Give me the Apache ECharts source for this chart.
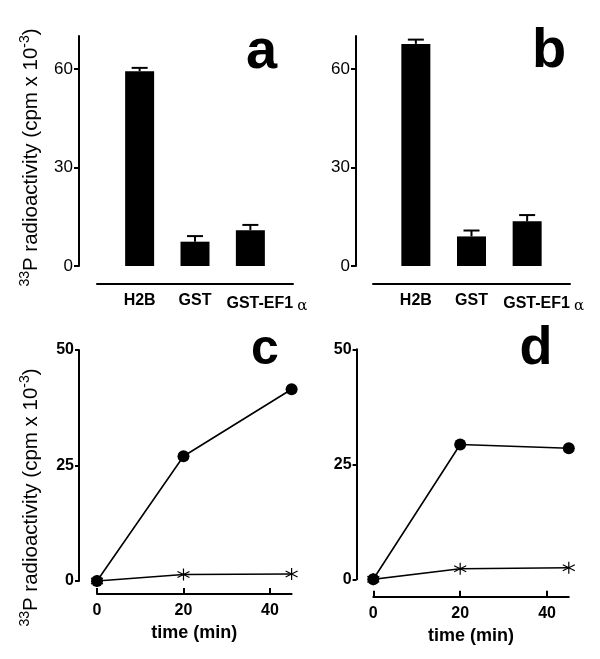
<!DOCTYPE html>
<html>
<head>
<meta charset="utf-8">
<script src="https://cdn.jsdelivr.net/npm/echarts@6/dist/echarts.min.js"></script>
<style>html,body{margin:0;padding:0;background:#fff}#c{width:600px;height:659px}</style>
</head>
<body>
<div id="c"></div>
<script>
// ---- data ----
const categories = ['H2B', 'GST', 'GST-EF1α'];
const barA = [59.3, 7.4, 10.9];
const errA = [1.0, 1.7, 1.6];
const barB = [67.6, 9.0, 13.6];
const errB = [1.3, 1.8, 1.9];
const barTicks = [0, 30, 60];
const timePoints = [0, 20, 45];
const circleC = [0, 27.0, 41.5];
const starC = [0, 1.4, 1.5];
const circleD = [0, 29.3, 28.5];
const starD = [0, 2.3, 2.5];
const lineTicks = [0, 25, 50];
const timeTicks = [0, 20, 40];
const panelLetters = ['a', 'b', 'c', 'd'];
const yTitle = '{sup|33}{n|P radioactivity (cpm x 10}{sup|-3}{n|)}';
const xTitle = 'time (min)';

const FONT = 'Liberation Sans, Arial, Helvetica, sans-serif';
const chart = echarts.init(document.getElementById('c'));
const catIdx = categories.map((_, i) => i);

function catLabel(v) {
  const s = categories[v];
  if (s === undefined) return '';
  if (s.endsWith('α')) return '{shift|' + s.slice(0, -1) + '}{g|α}';
  return '{b|' + s + '}';
}
const catRich = {
  b: {fontFamily: FONT, fontWeight: 'bold', fontSize: 16, color: '#000'},
  shift: {fontFamily: FONT, fontWeight: 'bold', fontSize: 16, color: '#000', padding: [0, 0, 0, 33]},
  g: {fontFamily: 'DejaVu Serif, serif', fontSize: 15, color: '#000', padding: [6, 0, 0, 4]}
};
const AXLINE = {show: true, onZero: false, lineStyle: {color: '#000', width: 2}};

function barX(gridIndex) {
  return {
    type: 'value', gridIndex, min: -0.77, max: 2.77, offset: 18,
    splitLine: {show: false},
    axisLine: AXLINE,
    axisTick: {show: false},
    axisLabel: {customValues: catIdx, formatter: catLabel, rich: catRich, margin: 9}
  };
}
function barY(gridIndex, offset) {
  return {
    type: 'value', gridIndex, min: 0, max: 70, offset,
    splitLine: {show: false},
    axisLine: AXLINE,
    axisTick: {show: true, customValues: barTicks, length: 5, lineStyle: {color: '#000', width: 2}},
    axisLabel: {customValues: barTicks, fontFamily: FONT, fontSize: 17, color: '#000', margin: 6}
  };
}
function timeX(gridIndex, offset) {
  return {
    type: 'value', gridIndex, min: 0, max: 45, offset,
    splitLine: {show: false},
    axisLine: AXLINE,
    axisTick: {show: true, inside: true, customValues: timeTicks, length: 6, lineStyle: {color: '#000', width: 2}},
    axisLabel: {customValues: timeTicks, fontFamily: FONT, fontWeight: 'bold', fontSize: 16, color: '#000', margin: 9},
    name: xTitle, nameLocation: 'middle', nameGap: 30,
    nameTextStyle: {fontFamily: FONT, fontWeight: 'bold', fontSize: 18, color: '#000'}
  };
}
function lineY(gridIndex, offset) {
  return {
    type: 'value', gridIndex, min: 0, max: 50, offset,
    splitLine: {show: false},
    axisLine: AXLINE,
    axisTick: {show: true, customValues: lineTicks, length: 4, lineStyle: {color: '#000', width: 2}},
    axisLabel: {customValues: lineTicks, fontFamily: FONT, fontWeight: 'bold', fontSize: 16, color: '#000', margin: 5}
  };
}

function barSeries(idx, vals) {
  return {
    type: 'bar', xAxisIndex: idx, yAxisIndex: idx, barWidth: 29,
    itemStyle: {color: '#000'}, silent: true,
    data: vals.map((v, i) => [i, v])
  };
}
function errSeries(idx, vals, errs) {
  return {
    type: 'custom', xAxisIndex: idx, yAxisIndex: idx, silent: true,
    encode: {x: 0, y: 1},
    data: vals.map((v, i) => [i, v, errs[i]]),
    renderItem(params, api) {
      const x = api.value(0), v = api.value(1), e = api.value(2);
      const b = api.coord([x, v]);
      const t = api.coord([x, v + e]);
      const h = 8;
      return {type: 'group', children: [
        {type: 'line', shape: {x1: b[0], y1: b[1], x2: t[0], y2: t[1]}, style: {stroke: '#000', lineWidth: 2}},
        {type: 'line', shape: {x1: t[0] - h, y1: t[1], x2: t[0] + h, y2: t[1]}, style: {stroke: '#000', lineWidth: 2}}
      ]};
    }
  };
}
const STAR = 'path://M0,-10L0,10M-8.66,-5L8.66,5M-8.66,5L8.66,-5';
function lineSeries(idx, vals, kind) {
  const isStar = kind === 'star';
  return {
    type: 'line', xAxisIndex: idx, yAxisIndex: idx, silent: true,
    symbol: isStar ? STAR : 'circle',
    symbolSize: 12,
    showAllSymbol: true,
    z: isStar ? 2 : 3,
    lineStyle: {color: '#000', width: 1.6},
    itemStyle: isStar ? {color: '#000', borderColor: '#000', borderWidth: 1.2} : {color: '#000'},
    data: timePoints.map((t, i) => [t, vals[i]])
  };
}

const letterStyle = (fs) => ({fontFamily: FONT, fontWeight: 'bold', fontSize: fs, fill: '#000', align: 'center', verticalAlign: 'middle'});
const titleRich = {
  n: {fontFamily: FONT, fontSize: 20.5, color: '#000', lineHeight: 24, verticalAlign: 'bottom'},
  sup: {fontFamily: FONT, fontSize: 14, color: '#000', lineHeight: 24, verticalAlign: 'top'}
};

chart.setOption({
  animation: false,
  backgroundColor: '#fff',
  grid: [
    {left: 97, top: 36, width: 196, height: 230},
    {left: 373, top: 36, width: 197, height: 230},
    {left: 97, top: 350, width: 194.6, height: 231},
    {left: 373.3, top: 349.3, width: 195.5, height: 230}
  ],
  xAxis: [barX(0), barX(1), timeX(2, 13), timeX(3, 17.4)],
  yAxis: [barY(0, 18), barY(1, 17), lineY(2, 18), lineY(3, 16.7)],
  series: [
    barSeries(0, barA), errSeries(0, barA, errA),
    barSeries(1, barB), errSeries(1, barB, errB),
    lineSeries(2, starC, 'star'), lineSeries(2, circleC, 'circle'),
    lineSeries(3, starD, 'star'), lineSeries(3, circleD, 'circle')
  ],
  graphic: [
    {type: 'text', x: 261.5, y: 53, style: Object.assign({text: panelLetters[0]}, letterStyle(56))},
    {type: 'text', x: 549, y: 52, style: Object.assign({text: panelLetters[1]}, letterStyle(56))},
    {type: 'text', x: 265, y: 350, style: Object.assign({text: panelLetters[2]}, letterStyle(50))},
    {type: 'text', x: 536, y: 349, style: Object.assign({text: panelLetters[3]}, letterStyle(54))},
    {type: 'text', x: 30, y: 157.5, rotation: Math.PI / 2,
      style: {text: yTitle, rich: titleRich, align: 'center', verticalAlign: 'middle'}},
    {type: 'text', x: 30, y: 497.5, rotation: Math.PI / 2,
      style: {text: yTitle, rich: titleRich, align: 'center', verticalAlign: 'middle'}}
  ]
});
</script>
</body>
</html>
